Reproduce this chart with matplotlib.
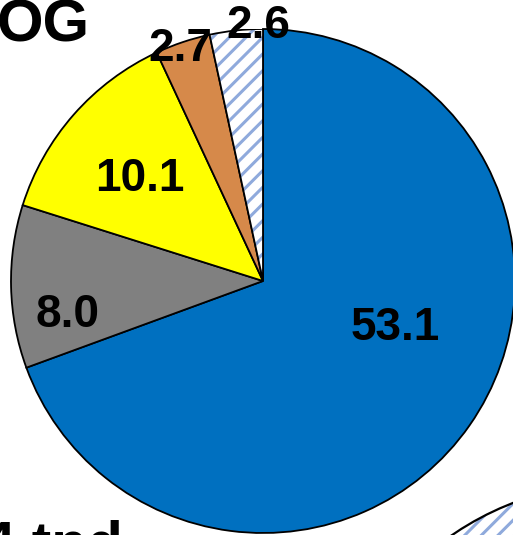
import matplotlib
matplotlib.use("Agg")
import matplotlib.pyplot as plt
from matplotlib.patches import Circle, Wedge

# ----------------------------------------------------------------------
# data
# ----------------------------------------------------------------------
values = [53.1, 8.0, 10.1, 2.7, 2.6]
labels = ["53.1", "8.0", "10.1", "2.7", "2.6"]
colors = ["#0070C0", "#808080", "#FFFF00", "#D6894A", "#FFFFFF"]
hatches = [None, None, None, None, "//"]

# label positions (pie radius = 1)
label_pos = [(0.524, -0.187), (-0.774, -0.135), (-0.490, 0.405),
             (-0.329, 0.921), (-0.020, 1.012)]

HATCH_COLOR = "#8FAADC"
plt.rcParams.update({
    "font.family": ["Liberation Sans", "DejaVu Sans"],
    "hatch.linewidth": 2.2,
})

W, H = 513, 535
fig = plt.figure(figsize=(W / 100, H / 100), dpi=100)

cx, cy, r = 263, 281, 252
ax = fig.add_axes([(cx - r) / W, (H - cy - r) / H, 2 * r / W, 2 * r / H])

wedges, _ = ax.pie(values, colors=colors, startangle=90, counterclock=False,
                   radius=1, wedgeprops=dict(edgecolor="black", linewidth=1.3))
ax.set_xlim(-1, 1)
ax.set_ylim(-1, 1)
ax.set_aspect("equal")
ax.axis("off")

for w, h in zip(wedges, hatches):
    if h:
        # hatch takes the edge colour, so draw the outline on a copy
        w.set_hatch(h)
        w.set_edgecolor(HATCH_COLOR)
        w.set_linewidth(0)
        ax.add_patch(Wedge(w.center, w.r, w.theta1, w.theta2,
                           facecolor="none", edgecolor="black", linewidth=1.3))

for lab, (x, y) in zip(labels, label_pos):
    ax.text(x, y, lab, ha="center", va="center", fontsize=33,
            fontweight="bold", color="black", clip_on=False, zorder=5)

# pieces of neighbouring panels that are cut off at the edges
fig.text(90 / W, 1 - 41 / H, "OG", ha="right", va="baseline",
         fontsize=43, fontweight="bold")
fig.text(123 / W, 1 - 562 / H, "4 tnd", ha="right", va="baseline",
         fontsize=42, fontweight="bold")

bg = fig.add_axes([0, 0, 1, 1], zorder=-1)
bg.set_xlim(0, W)
bg.set_ylim(H, 0)
bg.axis("off")
bg.add_patch(Circle((620, 780), 297, facecolor="white", edgecolor=HATCH_COLOR,
                    linewidth=0, hatch="//"))
bg.add_patch(Circle((620, 780), 297, facecolor="none", edgecolor="black",
                    linewidth=1.6))

fig.savefig("out.png", dpi=100)
